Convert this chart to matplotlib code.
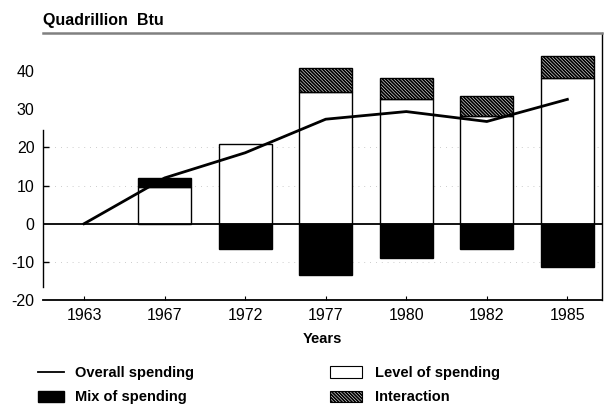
import matplotlib
matplotlib.use("Agg")
import matplotlib.pyplot as plt
from matplotlib.lines import Line2D
from matplotlib.patches import Patch
import numpy as np

plt.rcParams['font.family'] = ['Liberation Sans', 'DejaVu Sans']
plt.rcParams['hatch.linewidth'] = 1.3

years = ["1963", "1967", "1972", "1977", "1980", "1982", "1985"]
overall = [0.0, 12.0, 18.6, 27.4, 29.4, 26.8, 32.6]
level = [0.0, 9.5, 20.8, 34.5, 32.6, 28.2, 38.2]
mix = [0.0, 2.5, -6.6, -13.4, -8.9, -6.6, -11.3]
interaction = [0.0, 0.0, 0.0, 6.3, 5.6, 5.2, 5.7]
yticks = [-20, -10, 0, 10, 20, 30, 40]

HATCH = '\\' * 10

fig = plt.figure(figsize=(6.04, 4.07), dpi=100)
ax = fig.add_axes([43/604, 1-300/407, (602-43)/604, (300-33)/407])

x = np.arange(len(years))
w = 0.66
bar_idx = [i for i in range(len(years)) if level[i] != 0 or mix[i] != 0]
xb = x[bar_idx]
lev = np.array(level)[bar_idx]
mx = np.array(mix)[bar_idx]
inter = np.array(interaction)[bar_idx]

# level of spending
ax.bar(xb, lev, width=w, color='white', edgecolor='black', linewidth=1.0, zorder=2)
# mix of spending: positive stacks on level, negative hangs below zero
mix_bottom = np.where(mx > 0, lev, 0)
ax.bar(xb, mx, width=w, bottom=mix_bottom, color='black', edgecolor='black', linewidth=1.0, zorder=2)
# interaction
ii = inter > 0
ax.bar(xb[ii], inter[ii], width=w, bottom=lev[ii], color='white', edgecolor='black',
       hatch=HATCH, linewidth=1.0, zorder=2)

ax.axhline(0, color='black', linewidth=1.3, zorder=3)
for yv in [10, 20, -10]:
    ax.axhline(yv, color='#bbbbbb', linewidth=0.6, linestyle=(0, (1, 6)), zorder=1)

ax.plot(x, overall, color='black', linewidth=2.0, zorder=4, solid_joinstyle='miter')

ax.set_xlim(-0.51, 6.43)
ax.set_ylim(-20, 50)
ax.set_xticks(x)
ax.set_xticklabels(years, fontsize=11.5)
ax.set_yticks(yticks)
ax.set_yticklabels([str(v) for v in yticks], fontsize=11.5)
ax.tick_params(axis='x', direction='in', length=3, width=0.8, pad=6)
ax.tick_params(axis='y', direction='in', length=4, width=1.0, pad=6)
for t, v in zip(ax.yaxis.get_major_ticks(), yticks):
    if v in (40, 30, -20, 0):
        t.tick1line.set_visible(False)

ax.spines['left'].set_bounds(-16.6, 24.5)
ax.spines['left'].set_linewidth(1.0)
ax.spines['bottom'].set_linewidth(1.3)
ax.spines['top'].set_color('#808080')
ax.spines['top'].set_linewidth(1.8)
ax.spines['right'].set_linewidth(1.0)

ax.set_xlabel("Years", fontsize=10.5, fontweight='bold', labelpad=6)
fig.text(43/604, 1-20/407, "Quadrillion  Btu", fontsize=11.5, fontweight='bold', va='center', ha='left')

h1 = [Line2D([0], [0], color='black', linewidth=1.3),
      Patch(facecolor='black', edgecolor='black')]
h2 = [Patch(facecolor='white', edgecolor='black', linewidth=0.8),
      Patch(facecolor='white', edgecolor='black', hatch=HATCH, linewidth=0.8)]
common = dict(frameon=False, handleheight=0.8,
              labelspacing=0.7, borderaxespad=0, borderpad=0,
              prop={'size': 10.5, 'weight': 'bold'})
fig.legend(h1, ["Overall spending", "Mix of spending"], loc='upper left',
           handlelength=1.8, handletextpad=0.75,
           bbox_to_anchor=(38/604, 1-366/407), **common)
fig.legend(h2, ["Level of spending", "Interaction"], loc='upper left',
           handlelength=2.2, handletextpad=0.9,
           bbox_to_anchor=(330/604, 1-366/407), **common)

fig.savefig("out.png", dpi=100)
